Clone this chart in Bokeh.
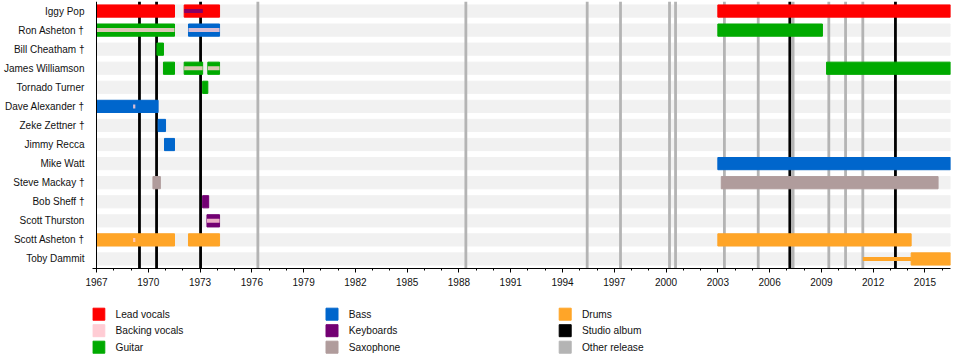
from bokeh.plotting import figure
from bokeh.models import ColumnDataSource, Range1d, FixedTicker
from bokeh.layouts import column
from bokeh.embed import file_html
from bokeh.resources import INLINE
from bokeh.core.properties import value

START = 1967.0
END = 2016.48

members = ["Iggy Pop", "Ron Asheton \u2020", "Bill Cheatham \u2020", "James Williamson",
           "Tornado Turner", "Dave Alexander \u2020", "Zeke Zettner \u2020", "Jimmy Recca",
           "Mike Watt", "Steve Mackay \u2020", "Bob Sheff \u2020", "Scott Thurston",
           "Scott Asheton \u2020", "Toby Dammit"]

roles = ["Lead vocals", "Backing vocals", "Guitar", "Bass", "Keyboards", "Saxophone",
         "Drums", "Studio album", "Other release"]
role_colors = ["#FF0000", "#FFCCD4", "#00AA00", "#0066CC", "#730073", "#B09C9C",
               "#FFA528", "#000000", "#B4B4B4"]

# main (thick) bars
bar_member = ["Iggy Pop", "Iggy Pop", "Iggy Pop",
              "Ron Asheton \u2020", "Ron Asheton \u2020", "Ron Asheton \u2020",
              "Bill Cheatham \u2020",
              "James Williamson", "James Williamson", "James Williamson", "James Williamson",
              "Tornado Turner",
              "Dave Alexander \u2020",
              "Zeke Zettner \u2020",
              "Jimmy Recca",
              "Mike Watt",
              "Steve Mackay \u2020", "Steve Mackay \u2020",
              "Bob Sheff \u2020",
              "Scott Thurston",
              "Scott Asheton \u2020", "Scott Asheton \u2020", "Scott Asheton \u2020",
              "Toby Dammit"]
bar_role = ["Lead vocals", "Lead vocals", "Lead vocals",
            "Guitar", "Bass", "Guitar",
            "Guitar",
            "Guitar", "Guitar", "Guitar", "Guitar",
            "Guitar",
            "Bass",
            "Bass",
            "Bass",
            "Bass",
            "Saxophone", "Saxophone",
            "Keyboards",
            "Keyboards",
            "Drums", "Drums", "Drums",
            "Drums"]
bar_start = [1967.0, 1972.08, 2003.0,
             1967.0, 1972.33, 2003.0,
             1970.50,
             1970.88, 1972.08, 1973.45, 2009.30,
             1973.15,
             1967.0,
             1970.57,
             1970.94,
             2003.0,
             1970.27, 2003.20,
             1973.15,
             1973.40,
             1967.0, 1972.33, 2003.0,
             2014.20]
bar_end = [1971.52, 1974.13, END,
           1971.52, 1974.13, 2009.06,
           1970.88,
           1971.52, 1973.15, 1974.13, END,
           1973.45,
           1970.57,
           1971.00,
           1971.52,
           END,
           1970.70, 2015.76,
           1973.50,
           1974.13,
           1971.52, 1974.13, 2014.20,
           END]

# thin (secondary) bars
thin_member = ["Iggy Pop",
               "Ron Asheton \u2020", "Ron Asheton \u2020",
               "James Williamson", "James Williamson",
               "Dave Alexander \u2020",
               "Scott Thurston",
               "Scott Asheton \u2020",
               "Toby Dammit"]
thin_role = ["Keyboards",
             "Backing vocals", "Backing vocals",
             "Backing vocals", "Backing vocals",
             "Backing vocals",
             "Backing vocals",
             "Backing vocals",
             "Drums"]
thin_start = [1972.08, 1967.0, 1972.33, 1972.08, 1973.45, 1969.12, 1973.40, 1969.12, 2011.40]
thin_end = [1973.16, 1971.52, 1974.13, 1973.15, 1974.13, 1969.25, 1974.13, 1969.25, 2014.20]

studio_albums = [1969.49, 1970.48, 1973.03, 2007.17, 2013.29]
other_releases = [1976.35, 1988.40, 1995.43, 1997.36, 2000.20, 2000.55, 2003.38,
                  2005.34, 2007.36, 2009.43, 2010.40, 2011.40]

year_ticks = [1967, 1970, 1973, 1976, 1979, 1982, 1985, 1988, 1991, 1994, 1997,
              2000, 2003, 2006, 2009, 2012, 2015]
minor_years = list(range(1967, 2017))

color_of = dict(zip(roles, role_colors))
FONT = "Liberation Sans"

W = 960
H1 = 298
H2 = 62
BORDER_L = 92
BORDER_R = 10
# frame starts 4px left of the 1967 line (room for the legend swatches)
X0 = START - (END - START) * 4.0 / 854.0
Y_TOP = -0.5
Y_BOT = 13.5

p = figure(width=W, height=H1, x_range=Range1d(X0, END), y_range=Range1d(Y_BOT, Y_TOP),
           output_backend="svg", toolbar_location=None,
           min_border_left=BORDER_L, min_border_right=BORDER_R,
           min_border_top=1, min_border_bottom=30)
p.outline_line_color = None
p.grid.visible = False

rows = list(range(len(members)))
# background bands
p.hbar(y=rows, left=START, right=END, height=0.64, color="#F1F1F1")

# release lines
p.segment(x0=other_releases, x1=other_releases, y0=Y_TOP, y1=Y_BOT,
          line_color=color_of["Other release"], line_width=2.8)
p.segment(x0=studio_albums, x1=studio_albums, y0=Y_TOP, y1=Y_BOT,
          line_color=color_of["Studio album"], line_width=2.8)

bars = ColumnDataSource(dict(
    y=[members.index(m) for m in bar_member],
    left=bar_start, right=bar_end,
    color=[color_of[r] for r in bar_role]))
p.hbar(y="y", left="left", right="right", height=0.64, color="color", source=bars)

thin = ColumnDataSource(dict(
    y=[members.index(m) for m in thin_member],
    left=thin_start, right=thin_end,
    color=[color_of[r] for r in thin_role],
    alpha=[1.0 if r == "Drums" else 0.85 for r in thin_role]))
p.hbar(y="y", left="left", right="right", height=0.21, color="color",
       fill_alpha="alpha", line_alpha=0, source=thin)

# left axis line at the start of the timeline
p.segment(x0=[START], x1=[START], y0=[Y_TOP], y1=[Y_BOT], line_color="black", line_width=1)

p.xaxis.ticker = FixedTicker(ticks=year_ticks, minor_ticks=minor_years)
p.xaxis.major_label_text_font = FONT
p.xaxis.major_label_text_font_size = "10px"
p.xaxis.major_label_text_color = "#111111"
p.xaxis.major_tick_out = 4
p.xaxis.major_tick_in = 0
p.xaxis.minor_tick_out = 2
p.xaxis.minor_tick_in = 0
p.xaxis.major_label_standoff = 5
p.xaxis.axis_line_color = "black"
p.xaxis.major_tick_line_color = "black"
p.xaxis.minor_tick_line_color = "black"

p.yaxis.ticker = FixedTicker(ticks=rows)
p.yaxis.major_label_overrides = {i: m for i, m in enumerate(members)}
p.yaxis.major_label_text_font = FONT
p.yaxis.major_label_text_font_size = "10px"
p.yaxis.major_label_text_color = "#111111"
p.yaxis.major_label_standoff = 8
p.yaxis.major_tick_out = 0
p.yaxis.major_tick_in = 0
p.yaxis.minor_tick_out = 0
p.yaxis.minor_tick_in = 0
p.yaxis.major_tick_line_color = None
p.yaxis.minor_tick_line_color = None
p.yaxis.axis_line_color = None

# legend panel (x data units = page pixels)
lg = figure(width=W, height=H2, x_range=Range1d(BORDER_L, W - BORDER_R), y_range=Range1d(H2, 0),
            output_backend="svg", toolbar_location=None,
            min_border_left=BORDER_L, min_border_right=BORDER_R,
            min_border_top=0, min_border_bottom=0,
            x_axis_location=None, y_axis_location=None)
lg.outline_line_color = None
lg.grid.visible = False
cols = [i // 3 for i in range(len(roles))]
rws = [i % 3 for i in range(len(roles))]
sx = [98.3 + 233.2 * c for c in cols]
sy = [15.7 + 16.5 * r for r in rws]
lg.rect(x=sx, y=sy, width=12, height=12, color=role_colors)
lg.text(x=[s + 16.7 for s in sx], y=sy, text=roles, text_baseline="middle",
        text_font=value(FONT), text_font_size="10.2px", text_color="#111111")

layout = column(p, lg)
open("out.html", "w").write(file_html(layout, INLINE))
